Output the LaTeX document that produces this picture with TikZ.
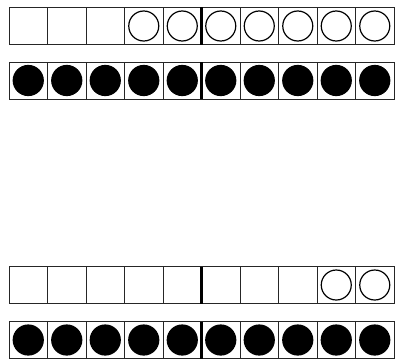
\documentclass[tikz,border=0pt]{standalone}
\usetikzlibrary{positioning}

\begin{document}
\begin{tikzpicture}[
  x=1pt, y=-1pt,
  cell/.style={draw=black!85, line width=0.9pt, minimum width=38.5pt,
    minimum height=37pt, inner sep=0pt, outer sep=0pt},
  counter/.style={circle, draw=black, line width=1.2pt, minimum size=30pt,
    inner sep=0pt},
  full/.style={counter, fill=black},
  divider/.style={line width=2.6pt, black},
]

% Page frame
\useasboundingbox (0,0) rectangle (395,361);

% =============================================
% Ten-frames: four rows of ten cells
% =============================================
\foreach \r/\y in {a/26, b/80.5, c/285, d/340}
  \foreach \i in {1,...,10}
    \node[cell] (\r\i) at ({9+38.5*(\i-0.5)},\y) {};

% Heavy line after the fifth cell
\foreach \r in {a,b,c,d}
  \draw[divider] (\r5.north east) -- (\r5.south east);

% =============================================
% Counters
% =============================================
% Row a: seven open counters
\foreach \i in {4,...,10}
  \node[counter] (ca\i) at (a\i) {};

% Row b: ten full counters
\foreach \i in {1,...,10}
  \node[full] (cb\i) at (b\i) {};

% Row c: two open counters
\node[counter] (cc9) at (c9) {};
\node[counter] (cc10) at (c10) {};

% Row d: ten full counters
\foreach \i in {1,...,10}
  \node[full] (cd\i) at (d\i) {};

\end{tikzpicture}
\end{document}
